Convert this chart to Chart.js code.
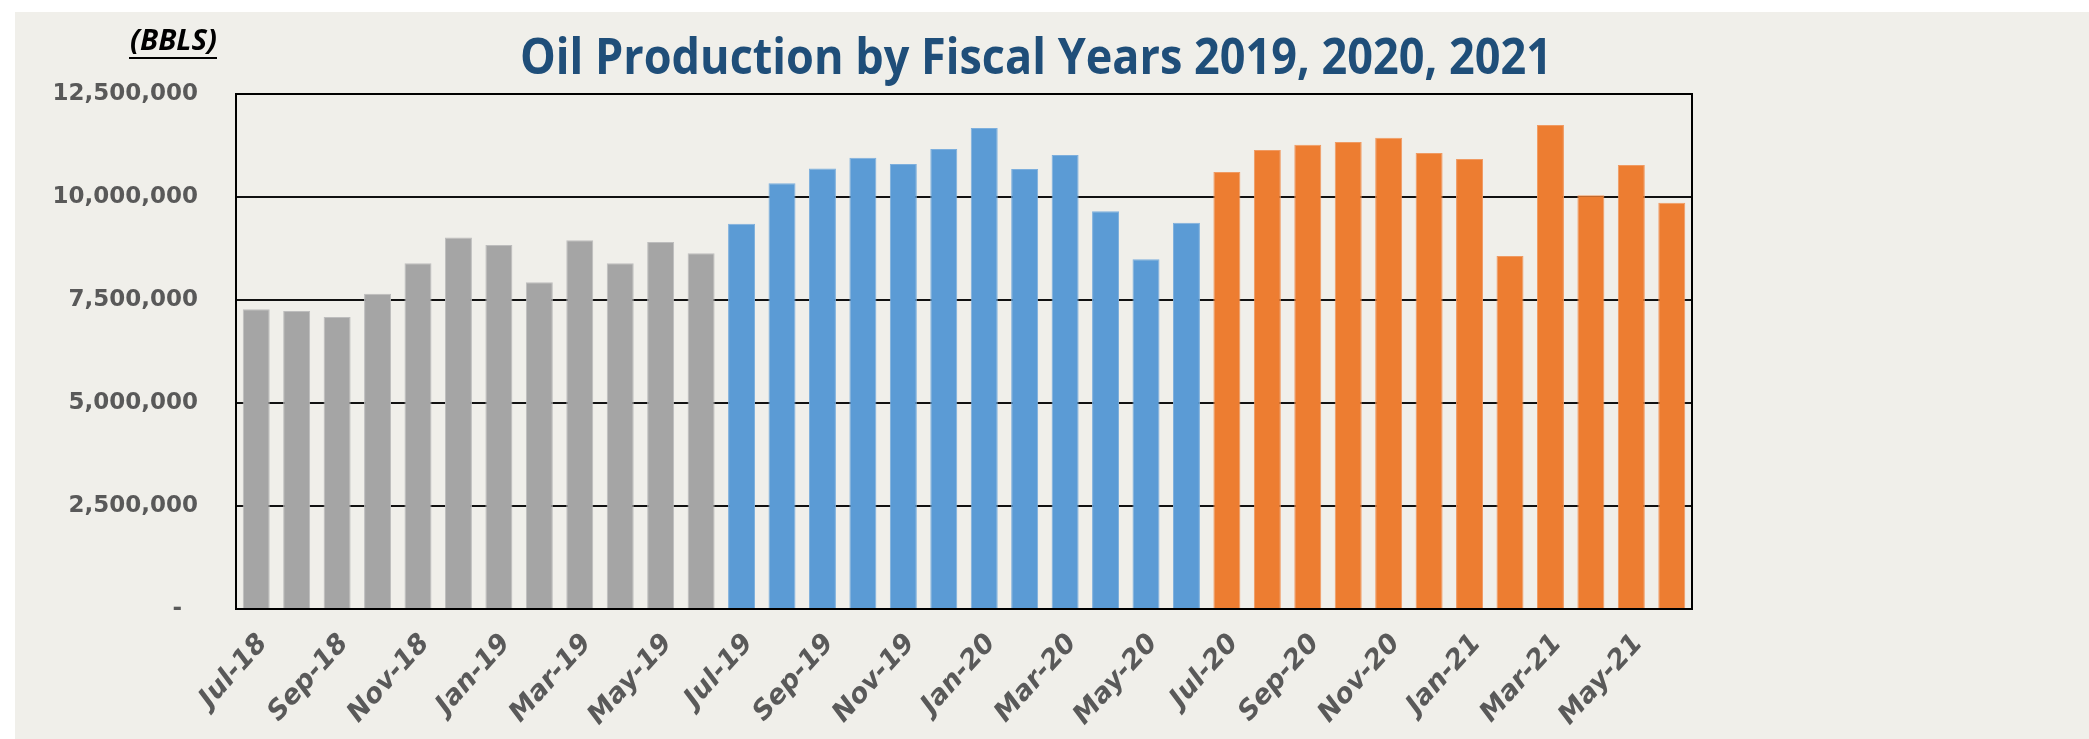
<!DOCTYPE html>
<html><head><meta charset="utf-8">
<script src="https://cdn.jsdelivr.net/npm/chart.js@4.4.0/dist/chart.umd.min.js"></script>
<style>
html,body{margin:0;padding:0;background:#fff;width:2089px;height:739px;overflow:hidden}
#panel{position:absolute;left:15px;top:12px;width:2074px;height:727px;background:#F0EFEA}
canvas{display:block}
</style></head><body>
<div id="panel"><canvas id="c" width="2074" height="727"></canvas></div>
<script>
const months = ["Jul-18","Aug-18","Sep-18","Oct-18","Nov-18","Dec-18","Jan-19","Feb-19","Mar-19","Apr-19","May-19","Jun-19",
  "Jul-19","Aug-19","Sep-19","Oct-19","Nov-19","Dec-19","Jan-20","Feb-20","Mar-20","Apr-20","May-20","Jun-20",
  "Jul-20","Aug-20","Sep-20","Oct-20","Nov-20","Dec-20","Jan-21","Feb-21","Mar-21","Apr-21","May-21","Jun-21"];
const fy2019 = [7273000, 7233000, 7087000, 7654000, 8391000, 9015000, 8837000, 7929000, 8951000, 8391000, 8910000, 8634000];
const fy2020 = [9348000, 10336000, 10693000, 10952000, 10798000, 11163000, 11673000, 10677000, 11017000, 9656000, 8489000, 9372000];
const fy2021 = [10604000, 11139000, 11268000, 11333000, 11438000, 11066000, 10920000, 8570000, 11746000, 10045000, 10774000, 9858000];
const yMax = 12500000;
const yStep = 2500000;
const titleText = "Oil Production by Fiscal Years 2019, 2020, 2021";
const unitText = "(BBLS)";

const pad = (arr, before, after) => Array(before).fill(null).concat(arr, Array(after).fill(null));

const decor = {
  id: 'decor',
  afterDraw(chart) {
    const ctx = chart.ctx, a = chart.chartArea;
    ctx.save();
    ctx.strokeStyle = '#000';
    ctx.lineWidth = 2;
    ctx.strokeRect(a.left, a.top, a.right - a.left, a.bottom - a.top);
    // title
    ctx.fillStyle = '#1F4E79';
    ctx.font = 'bold 50px "Liberation Sans Narrow", "Open Sans", sans-serif';
    ctx.textBaseline = 'alphabetic';
    const w = ctx.measureText(titleText).width;
    const target = 1032;
    const sx = target / w;
    ctx.translate(1021 - target / 2, 62);
    ctx.scale(sx, 1);
    ctx.fillText(titleText, 0, 0);
    ctx.restore();
    // unit label
    ctx.save();
    ctx.fillStyle = '#000';
    ctx.font = 'italic bold 28px "Open Sans", sans-serif';
    ctx.textBaseline = 'alphabetic';
    const uw = ctx.measureText(unitText).width;
    const ut = 87;
    ctx.translate(115, 38);
    ctx.scale(ut / uw, 1);
    ctx.fillText(unitText, 0, 0);
    ctx.restore();
    ctx.save();
    ctx.strokeStyle = '#000';
    ctx.lineWidth = 2;
    ctx.beginPath();
    ctx.moveTo(114, 46); ctx.lineTo(202, 46);
    ctx.stroke();
    ctx.restore();
  }
};

new Chart(document.getElementById('c'), {
  type: 'bar',
  data: {
    labels: months,
    datasets: [
      { label: 'FY2019', data: pad(fy2019, 0, 24), backgroundColor: '#A5A5A5', borderColor: '#BDBDBD', borderWidth: 1 },
      { label: 'FY2020', data: pad(fy2020, 12, 12), backgroundColor: '#5B9BD5', borderColor: '#7DAFDD', borderWidth: 1 },
      { label: 'FY2021', data: pad(fy2021, 24, 0), backgroundColor: '#ED7D31', borderColor: '#F09A62', borderWidth: 1 }
    ]
  },
  options: {
    responsive: false,
    animation: false,
    datasets: { bar: { grouped: false, categoryPercentage: 1.0, barPercentage: 0.667 } },
    layout: { padding: { left: 0, right: 397, top: 82, bottom: 0 } },
    plugins: { legend: { display: false }, title: { display: false }, tooltip: { enabled: false } },
    scales: {
      x: {
        grid: { display: false, drawTicks: false },
        border: { display: true, color: '#000', width: 2 },
        afterFit(s) { s.height = 130; },
        ticks: {
          autoSkip: false, maxRotation: 48, minRotation: 48, padding: 19, labelOffset: 7,
          color: '#595959',
          font: { family: '"DejaVu Sans", sans-serif', size: 27, weight: 'bold', style: 'italic' },
          callback: (v, i) => (i % 2 === 0 ? months[i] : '')
        }
      },
      y: {
        min: 0, max: yMax,
        afterFit(s) { s.width = 221; },
        grid: { color: '#111', lineWidth: 2, drawTicks: false },
        border: { display: true, color: '#000', width: 2 },
        ticks: {
          stepSize: yStep, padding: 38, color: '#595959',
          font: { family: '"DejaVu Sans", sans-serif', size: 23, weight: 'bold' },
          callback: (v) => (v === 0 ? '-  ' : v.toLocaleString('en-US'))
        }
      }
    }
  },
  plugins: [decor]
});
</script>
</body></html>
